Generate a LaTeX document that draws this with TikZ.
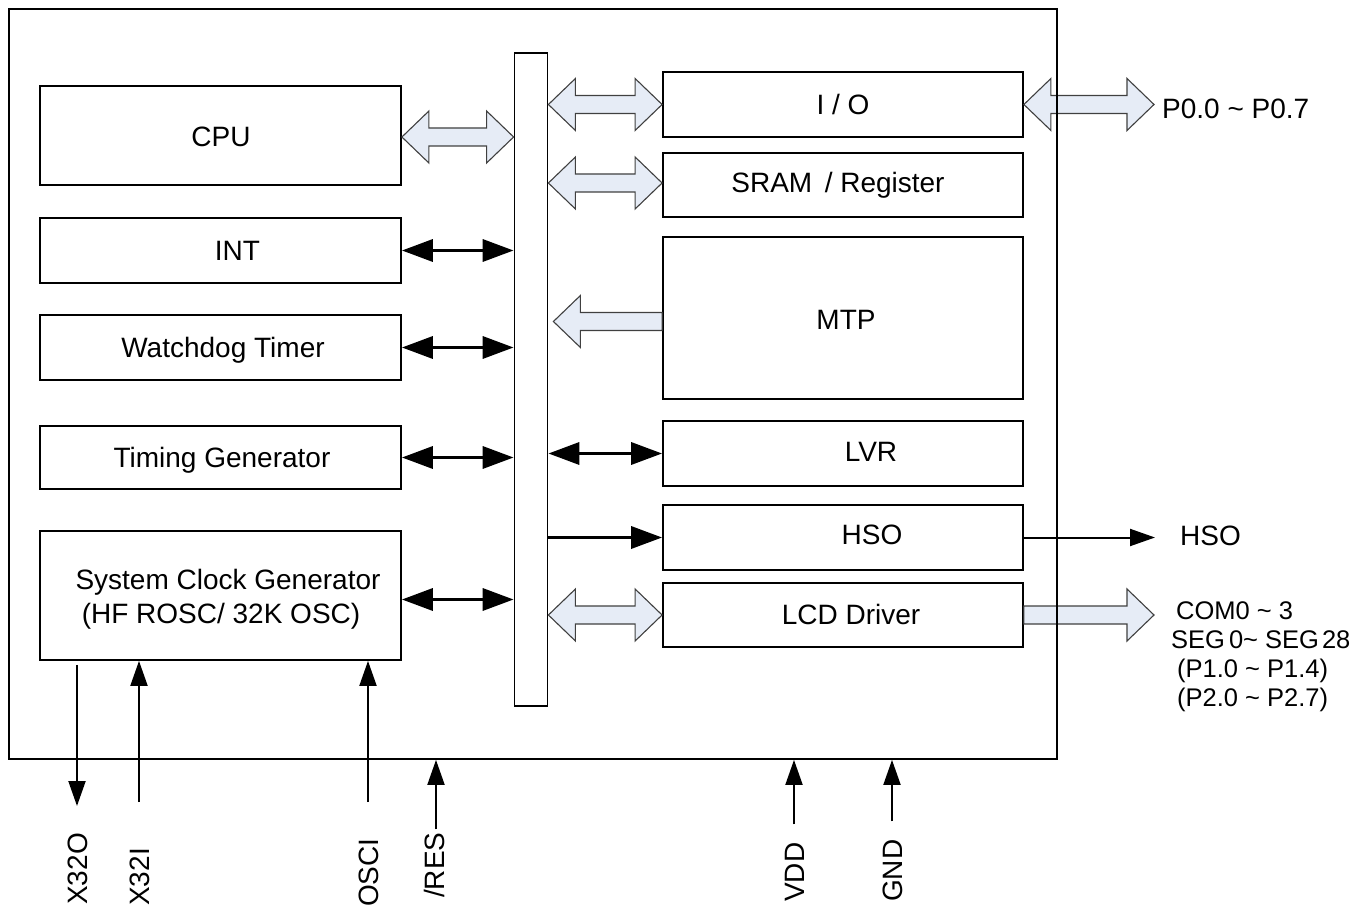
\documentclass[tikz,border=0pt]{standalone}
\usepackage{fontspec}
\setmainfont{Liberation Sans}
\usetikzlibrary{arrows.meta,calc}
\definecolor{hfill}{HTML}{E6ECF6}
\definecolor{hline}{HTML}{404040}
\tikzset{
  blk/.style={draw, line width=1.8pt, minimum width=361pt, inner sep=0pt},
  rblk/.style={blk, minimum width=360pt},
  txt/.style={font=\fontsize{28}{32}\selectfont, inner sep=0pt, text height=20pt, text depth=0pt},
  rtxt/.style={font=\fontsize{28}{32}\selectfont, inner sep=0pt, anchor=base west},
  stxt/.style={font=\fontsize{25.5}{29}\selectfont, inner sep=0pt, anchor=base west},
  pinlbl/.style={font=\fontsize{28}{32}\selectfont, inner sep=0pt, text height=20pt, text depth=0pt, rotate=90, anchor=west},
  hollow/.style={fill=hfill, draw=hline, line width=1.1pt, line join=miter},
  busarrow/.style={line width=3.5pt, {Triangle[length=31pt,width=22pt]}-{Triangle[length=31pt,width=22pt]}},
  busone/.style={line width=3.5pt, -{Triangle[length=31pt,width=22pt]}},
  pinarrow/.style={line width=2pt, -{Triangle[length=25pt,width=17pt]}},
}
\newcommand{\hollowboth}[2]{%
  \path[hollow] let \p1=(#1), \p2=(#2) in
    (\x1,\y1) -- (\x1+27pt,\y1+26pt) -- (\x1+27pt,\y1+9pt) -- (\x2-27pt,\y1+9pt)
    -- (\x2-27pt,\y1+26pt) -- (\x2,\y1) -- (\x2-27pt,\y1-26pt) -- (\x2-27pt,\y1-9pt)
    -- (\x1+27pt,\y1-9pt) -- (\x1+27pt,\y1-26pt) -- cycle;}
\newcommand{\hollowright}[2]{% tail, tip
  \path[hollow] let \p1=(#1), \p2=(#2) in
    (\x1,\y1+9pt) -- (\x2-27pt,\y1+9pt) -- (\x2-27pt,\y1+26pt) -- (\x2,\y1)
    -- (\x2-27pt,\y1-26pt) -- (\x2-27pt,\y1-9pt) -- (\x1,\y1-9pt) -- cycle;}
\newcommand{\hollowleft}[2]{% tip, tail
  \path[hollow] let \p1=(#1), \p2=(#2) in
    (\x1,\y1) -- (\x1+27pt,\y1+26pt) -- (\x1+27pt,\y1+9pt) -- (\x2,\y1+9pt)
    -- (\x2,\y1-9pt) -- (\x1+27pt,\y1-9pt) -- (\x1+27pt,\y1-26pt) -- cycle;}
\begin{document}
\begin{tikzpicture}[x=1pt,y=-1pt]
\useasboundingbox (0,0) rectangle (1371,909);

% left blocks
\node[blk, minimum height=99pt, label={[txt,xshift=0.5pt,yshift=-1.5pt]center:CPU}] (cpu) at (220.5,135.5) {};
\node[blk, minimum height=65pt, label={[txt,xshift=17pt]center:INT}] (int) at (220.5,250.5) {};
\node[blk, minimum height=65pt, label={[txt,xshift=2.5pt]center:Watchdog Timer}] (wdt) at (220.5,347.5) {};
\node[blk, minimum height=63pt, label={[txt,xshift=1.5pt]center:Timing Generator}] (tg) at (220.5,457.5) {};
\node[blk, minimum height=129pt,
  label={[txt,xshift=7.5pt,yshift=16.5pt]center:System Clock Generator},
  label={[txt,xshift=0.5pt,yshift=-17.5pt]center:(HF ROSC/ 32K OSC)}] (sys) at (220.5,595.5) {};

% bus
\node[draw, line width=1.8pt, minimum width=33pt, minimum height=653pt, inner sep=0pt] (bus) at (531,379.5) {};

% right blocks
\node[rblk, minimum height=65pt, label={[txt,yshift=-0.5pt]center:I / O}] (io) at (843,104.5) {};
\node[rblk, minimum height=64pt, label={[txt,xshift=-5pt,yshift=2pt]center:SRAM\, / Register}] (sram) at (843,185) {};
\node[rblk, minimum height=162pt, label={[txt,xshift=3pt,yshift=-2pt]center:MTP}] (mtp) at (843,318) {};
\node[rblk, minimum height=65pt, label={[txt,xshift=28pt,yshift=2.5pt]center:LVR}] (lvr) at (843,453.5) {};
\node[rblk, minimum height=65pt, label={[txt,xshift=29pt,yshift=3pt]center:HSO}] (hso) at (843,537.5) {};
\node[rblk, minimum height=64pt, label={[txt,xshift=8pt,yshift=1pt]center:LCD Driver}] (lcd) at (843,615) {};

% hollow bus arrows
\hollowboth{[yshift=-1.5pt]cpu.east}{[yshift=-1.5pt]bus.west |- cpu.east}
\hollowboth{bus.east |- io.west}{io.west}
\hollowboth{[yshift=2pt]bus.east |- sram.west}{[yshift=2pt]sram.west}
\hollowleft{[xshift=5pt,yshift=-3.5pt]bus.east |- mtp.west}{[yshift=-3.5pt]mtp.west}
\hollowboth{bus.east |- lcd.west}{lcd.west}

% external hollow arrows
\coordinate (p0tip) at (1154,104.5);
\coordinate (lcdtip) at (1154,615);
\hollowboth{io.east}{p0tip}
\hollowright{lcd.east}{lcdtip}

% black bus arrows
\draw[busarrow] (int.east) -- (bus.west |- int.east);
\draw[busarrow] (wdt.east) -- (bus.west |- wdt.east);
\draw[busarrow] (tg.east) -- (bus.west |- tg.east);
\draw[busarrow] ([yshift=-4pt]sys.east) -- ([yshift=-4pt]bus.west |- sys.east);
\draw[busarrow] (bus.east |- lvr.west) -- (lvr.west);
\draw[busone] ([xshift=-1pt]bus.east |- hso.west) -- (hso.west);

% HSO output
\coordinate (hsotip) at (1155,537.5);
\draw[pinarrow] (hso.east) -- (hsotip);

% outer frame
\node[draw, line width=1.8pt, minimum width=1048pt, minimum height=750pt, inner sep=0pt] (frame) at (533,384) {};

% right labels
\node[rtxt] (lp0) at (1162,119) {P0.0 \textasciitilde{} P0.7};
\node[rtxt] (lhso) at (1180,545) {HSO};
\node[stxt] (lcom) at (1176,619) {COM0 \textasciitilde{} 3};
\node[stxt] (lseg) at (1171,648) {SEG\hspace{4pt}0\textasciitilde{} SEG\hspace{3pt}28};
\node[stxt] (lp1) at (1177,677) {(P1.0 \textasciitilde{} P1.4)};
\node[stxt] (lp2) at (1177,706) {(P2.0 \textasciitilde{} P2.7)};

% bottom pins
\coordinate (x32otip) at (77,806);
\coordinate (x32ifoot) at (139,802);
\coordinate (oscifoot) at (368,802);
\draw[pinarrow] ([yshift=-4pt]sys.south -| x32otip) -- (x32otip);
\draw[pinarrow] (x32ifoot) -- (sys.south -| x32ifoot);
\draw[pinarrow] (oscifoot) -- (sys.south -| oscifoot);

\node[pinlbl] (lx32o) at (77,905) {X32O};
\node[pinlbl] (lx32i) at (139,906) {X32I};
\node[pinlbl] (losci) at (368,907) {OSCI};
\node[pinlbl] (lres) at (434,898) {/RES};
\node[pinlbl] (lvdd) at (794,902) {VDD};
\node[pinlbl] (lgnd) at (892,902) {GND};

\draw[pinarrow] ([yshift=3pt]lres.east -| 436,0) -- (frame.south -| 436,0);
\draw[pinarrow] ([yshift=18pt]lvdd.east) -- (lvdd.east |- frame.south);
\draw[pinarrow] ([yshift=18pt]lgnd.east) -- (lgnd.east |- frame.south);
\end{tikzpicture}
\end{document}
